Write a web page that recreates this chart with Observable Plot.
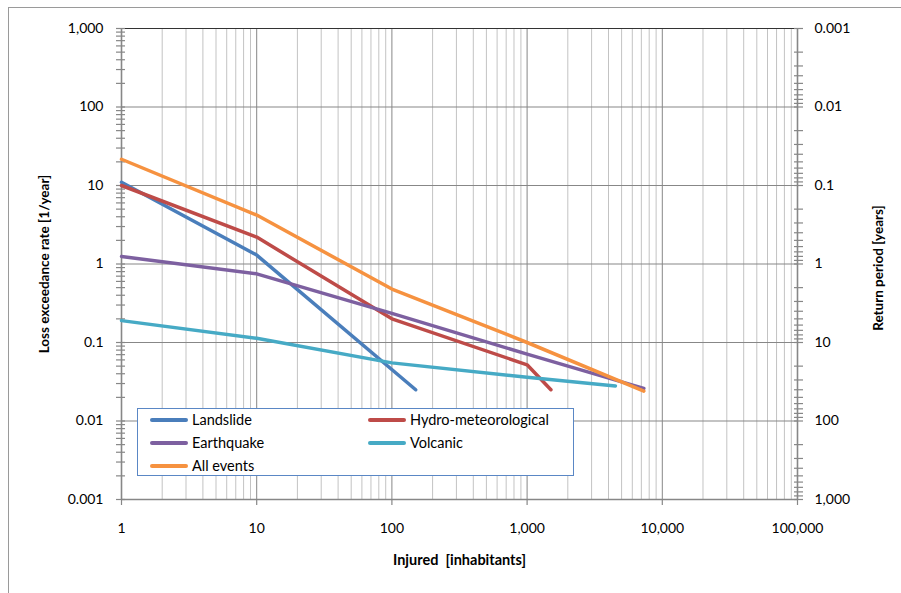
<!DOCTYPE html>
<html>
<head>
<meta charset="utf-8">
<script src="https://cdn.jsdelivr.net/npm/d3@7"></script>
<script src="https://cdn.jsdelivr.net/npm/@observablehq/plot@0.6"></script>
<style>
  html, body { margin: 0; padding: 0; background: #fff; overflow: hidden; }
  body { position: relative; width: 901px; height: 593px; font-family: Lato, "Open Sans", sans-serif; }
  #chart { position: absolute; left: 0; top: 0; }
  #outer { position: absolute; left: 8px; top: 7px; width: 1000px; height: 1000px; border: 1px solid #9a9a9a; pointer-events: none; }
  #legend { position: absolute; left: 137px; top: 408px; width: 435px; height: 66px; border: 1px solid #5a87c5; background: #fff; }
  .item { position: absolute; height: 20px; line-height: 20px; font-size: 14.5px; color: #000; white-space: nowrap; }
  .sw { position: absolute; left: 0; top: 8px; width: 38px; height: 4px; border-radius: 2px; }
  .lab { position: absolute; left: 42px; top: 0; }
</style>
</head>
<body>
<div id="chart"></div>
<div id="outer"></div>
<div id="legend"></div>
<script>
// ---- data ----
const seriesNames = ["Landslide", "Hydro-meteorological", "Earthquake", "Volcanic", "All events"];
const landslideX = [1, 10, 150];
const landslideY = [11, 1.3, 0.025];
const hydroX = [1, 10, 100, 1000, 1500];
const hydroY = [10, 2.2, 0.2, 0.052, 0.025];
const quakeX = [1, 10, 100, 1000, 7300];
const quakeY = [1.25, 0.75, 0.235, 0.071, 0.026];
const volcX = [1, 10, 100, 1000, 4500];
const volcY = [0.19, 0.113, 0.055, 0.036, 0.028];
const allX = [1, 10, 100, 1000, 7300];
const allY = [21.6, 4.2, 0.48, 0.1, 0.024];

// tick values and labels
const xTicks = [1, 10, 100, 1000, 10000, 100000];
const xTickLabels = ["1", "10", "100", "1,000", "10,000", "100,000"];
const yTicks = [0.001, 0.01, 0.1, 1, 10, 100, 1000];
const yTickLabels = ["0.001", "0.01", "0.1", "1", "10", "100", "1,000"];
const rpTicks = [1000, 100, 10, 1, 0.1, 0.01, 0.001];
const rpTickLabels = ["1,000", "100", "10", "1", "0.1", "0.01", "0.001"];
const minorMultipliers = [2, 3, 4, 5, 6, 7, 8, 9];

// styles
const seriesColors = ["#4a7ebb", "#be4b48", "#7d60a0", "#46aac5", "#f69240"];

// ---- build tables ----
const seriesXY = [[landslideX, landslideY], [hydroX, hydroY], [quakeX, quakeY], [volcX, volcY], [allX, allY]];
const rows = [];
seriesXY.forEach(([xs, ys], s) => xs.forEach((x, i) => rows.push({series: seriesNames[s], x, y: ys[i]})));

const xMinor = xTicks.slice(0, -1).flatMap(d => minorMultipliers.map(m => m * d));
const yMinor = yTicks.slice(0, -1).flatMap(d => minorMultipliers.map(m => m * d));
const rpMinor = rpTicks.slice(1).flatMap(d => minorMultipliers.map(m => 1 / (m * d)));
const xLab = new Map(xTicks.map((v, i) => [v, xTickLabels[i]]));
const yLab = new Map(yTicks.map((v, i) => [v, yTickLabels[i]]));
const rpLab = new Map(rpTicks.map((v, i) => [1 / v, rpTickLabels[i]]));

const majorGrid = "#878787", minorGrid = "#c3c3c3";

const chart = Plot.plot({
  width: 901, height: 593,
  marginLeft: 121, marginRight: 104, marginTop: 28, marginBottom: 94,
  x: {type: "log", domain: [1, 100000]},
  y: {type: "log", domain: [0.001, 1000]},
  color: {domain: seriesNames, range: seriesColors},
  style: {fontFamily: "Lato, 'Open Sans', sans-serif", fontSize: "14px", color: "#000", background: "transparent"},
  marks: [
    Plot.ruleX(xMinor, {stroke: minorGrid, strokeWidth: 1}),
    Plot.ruleX(xTicks, {stroke: majorGrid, strokeWidth: 1}),
    Plot.ruleY(yTicks, {stroke: majorGrid, strokeWidth: 1}),
    Plot.ruleY([yTicks[yTicks.length - 1]], {stroke: "#333", strokeWidth: 1.2}),
    Plot.ruleX([xTicks[0]], {stroke: majorGrid, strokeWidth: 1.6}),
    Plot.ruleX([xTicks[xTicks.length - 1]], {stroke: majorGrid, strokeWidth: 1.6}),
    Plot.ruleY([yTicks[0]], {stroke: majorGrid, strokeWidth: 1.6}),
    // left axis ticks (crossing)
    Plot.axisY([...yTicks, ...yMinor], {anchor: "left", tickSize: 9, dx: 4, fill: "none", stroke: majorGrid, strokeWidth: 1.2, label: null}),
    Plot.axisY(yTicks, {anchor: "left", tickSize: 0, tickPadding: 18, tickFormat: d => yLab.get(d), label: null}),
    // right axis (return period)
    Plot.axisY([...yTicks, ...rpMinor], {anchor: "right", tickSize: 9, dx: -4, fill: "none", stroke: majorGrid, strokeWidth: 1.2, label: null}),
    Plot.axisY(yTicks, {anchor: "right", tickSize: 0, tickPadding: 17, tickFormat: d => rpLab.get(d), label: null}),
    // bottom axis
    Plot.axisX(xTicks, {anchor: "bottom", tickSize: 6, fill: "none", stroke: majorGrid, strokeWidth: 1.2, label: null}),
    Plot.axisX(xTicks, {anchor: "bottom", tickSize: 0, tickPadding: 24, tickFormat: d => xLab.get(d), label: null}),
    // axis titles
    Plot.text(["Loss exceedance rate [1/year]"], {frameAnchor: "left", textAnchor: "middle", rotate: -90, dx: -77, fontWeight: "bold", fontSize: 13.5}),
    Plot.text(["Return period [years]"], {frameAnchor: "right", textAnchor: "middle", rotate: -90, dx: 81, dy: 4, fontWeight: "bold", fontSize: 13.5}),
    Plot.text(["Injured\u00a0 [inhabitants]"], {frameAnchor: "bottom", textAnchor: "middle", dy: 65, fontWeight: "bold", fontSize: 14.5}),
    // series
    Plot.line(rows, {x: "x", y: "y", z: "series", stroke: "series", strokeWidth: 3.5, strokeLinecap: "round", strokeLinejoin: "round"})
  ]
});
document.getElementById("chart").appendChild(chart);

// legend (HTML overlay)
const legend = document.getElementById("legend");
seriesNames.forEach((name, i) => {
  const col = i % 2, row = Math.floor(i / 2);
  const item = document.createElement("div");
  item.className = "item";
  item.style.left = (12 + col * 218) + "px";
  item.style.top = (1 + row * 23) + "px";
  const sw = document.createElement("div");
  sw.className = "sw";
  sw.style.background = seriesColors[i];
  const lab = document.createElement("span");
  lab.className = "lab";
  lab.textContent = name;
  item.appendChild(sw);
  item.appendChild(lab);
  legend.appendChild(item);
});
</script>
</body>
</html>
